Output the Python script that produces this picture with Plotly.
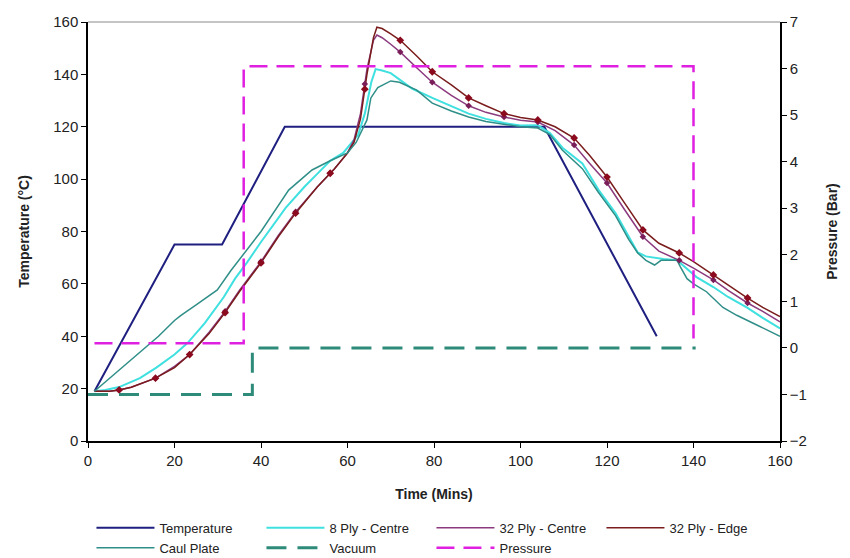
import numpy as np
import plotly.graph_objects as go

# ---- data ----
temp_t = [1.5, 20, 31, 45.5, 105.5, 131.5]
temp_v = [19, 75, 75, 120, 120, 40]

edge_t = [1.5, 5, 7.2, 10, 15.6, 20, 23.5, 28, 31.7, 35, 40, 44, 48, 53, 57, 60, 61.5, 63, 64.5, 66, 66.8, 68, 70, 72.2, 76, 79.6, 84, 88, 92, 96.2, 100, 104, 108, 112.4, 116, 120, 124, 128.3, 132, 136.7, 140, 144.6, 148, 152.5, 156, 160]
edge_v = [19, 19, 19.5, 20.5, 24, 28, 33, 41, 49, 57, 68, 78, 87, 97, 104, 110, 114, 123, 140, 154, 158, 157.5, 155.5, 153, 147, 141, 136, 131, 128, 125, 123.5, 122.6, 120, 115.7, 109, 100.8, 91, 80.6, 75.5, 71.8, 68.5, 63.4, 59.5, 54.6, 51, 47.5]

centre32_t = [1.5, 5, 7.2, 10, 15.6, 20, 23.5, 28, 31.7, 35, 40, 44, 48, 53, 57, 60, 61.5, 63, 64.5, 66, 66.8, 68, 70, 72.2, 76, 79.6, 84, 88, 92, 96.2, 100, 104, 108, 112.4, 116, 120, 124, 128.3, 132, 136.7, 140, 144.6, 148, 152.5, 156, 160]
centre32_v = [19, 19, 19.5, 20.5, 24, 28.5, 33, 41.5, 49.5, 57.5, 68.5, 78.5, 87.5, 97, 104, 110, 115, 125, 142, 153, 155, 154, 151.5, 148.5, 142.5, 137, 132, 128, 125.5, 123.7, 122.5, 121.8, 118.5, 113, 106, 98.5, 88.5, 78, 72.5, 69, 66, 61.5, 57.5, 52.7, 49.5, 45.5]

ply8_t = [1.5, 4, 7.2, 12, 15.8, 20, 23, 27, 31.4, 34, 36.7, 40, 45.7, 50, 53, 56, 59, 61, 62.5, 64, 65.5, 66.5, 68, 70, 72, 75, 79.6, 84, 88, 92, 96.2, 100, 104, 106.8, 109.7, 114.3, 118, 122, 125, 127.1, 129, 131, 133, 136.2, 138, 140.7, 144.6, 148, 152.5, 156, 160]
ply8_v = [19, 19.5, 20.6, 24, 28, 33, 37.4, 45, 55, 62, 68, 76, 89, 97, 102, 107, 110, 114, 117, 125, 137, 142, 141.5, 140.5, 138, 134.5, 131, 128, 125, 123, 121.4, 120.5, 120.6, 117.6, 112, 106, 96, 87, 78, 72, 70.5, 70, 69.5, 69, 66.5, 62.6, 58.8, 55, 50.8, 47, 43]

caul_t = [1.5, 5, 10, 13.3, 16.3, 20, 21.5, 25, 29.9, 33, 36.7, 40, 46.4, 51.8, 56, 60, 62, 64.5, 65.4, 67, 70, 72, 76, 79.6, 84, 88, 92, 96.2, 100, 104, 106.8, 109.7, 114.3, 118, 122, 125, 127.1, 129, 131, 132.5, 134, 136.2, 137, 138.5, 140, 143, 146.8, 150, 155, 160]
caul_v = [19, 24, 31, 36, 40, 46, 48, 52, 57.7, 65, 73, 80, 95.8, 103.5, 107, 110, 114, 122.6, 131, 135, 137.5, 137, 134, 129, 126, 123.7, 122, 121, 120, 119.5, 117, 111, 104, 95, 86, 77, 71.8, 69, 67.2, 69, 69, 69, 66.4, 62, 60, 57, 51, 48, 44, 40]

vac_t = [0, 38, 38, 140.5]
vac_p = [-1, -1, 0, 0]

press_t = [1.5, 36, 36, 140, 140]
press_p = [0.1, 0.1, 6.05, 6.05, 0.2]

marker_times = [7.2, 15.6, 23.5, 31.7, 40, 48, 56, 64, 72.2, 79.6, 88, 96.2, 104, 112.4, 120, 128.3, 136.7, 144.6, 152.5]

x_ticks = [0, 20, 40, 60, 80, 100, 120, 140, 160]
y_ticks = [0, 20, 40, 60, 80, 100, 120, 140, 160]
y2_ticks = [-2, -1, 0, 1, 2, 3, 4, 5, 6, 7]

FONT = "Liberation Sans, Arial, sans-serif"

fig = go.Figure()
fig.add_trace(go.Scatter(x=temp_t, y=temp_v, name="Temperature", mode="lines",
                         line=dict(color="#1f1f80", width=2)))
fig.add_trace(go.Scatter(x=ply8_t, y=ply8_v, name="8 Ply - Centre", mode="lines",
                         line=dict(color="#3fe0e0", width=2)))
fig.add_trace(go.Scatter(x=centre32_t, y=centre32_v, name="32 Ply - Centre", mode="lines",
                         line=dict(color="#8b3a7e", width=1.5)))
fig.add_trace(go.Scatter(x=edge_t, y=edge_v, name="32 Ply - Edge", mode="lines",
                         line=dict(color="#7a1c1c", width=1.5)))
fig.add_trace(go.Scatter(x=caul_t, y=caul_v, name="Caul Plate", mode="lines",
                         line=dict(color="#2f8f88", width=1.5)))
fig.add_trace(go.Scatter(x=vac_t, y=vac_p, name="Vacuum", mode="lines", yaxis="y2",
                         line=dict(color="#2e8b7a", width=3, dash="20px,11px")))
fig.add_trace(go.Scatter(x=press_t, y=press_p, name="Pressure", mode="lines", yaxis="y2",
                         line=dict(color="#e020e0", width=2.5, dash="18px,9px")))

# markers on the 32-ply lines
fig.add_trace(go.Scatter(x=marker_times, y=np.interp(marker_times, centre32_t, centre32_v),
                         mode="markers", showlegend=False, hoverinfo="skip",
                         marker=dict(color="#7a1e5a", size=5, symbol="diamond")))
fig.add_trace(go.Scatter(x=marker_times, y=np.interp(marker_times, edge_t, edge_v),
                         mode="markers", showlegend=False, hoverinfo="skip",
                         marker=dict(color="#8b0a1e", size=6, symbol="diamond")))

fig.update_layout(
    width=850, height=558,
    margin=dict(l=88, r=55, t=22, b=117),
    paper_bgcolor="white", plot_bgcolor="white",
    font=dict(family=FONT, color="#222222", size=14),
    showlegend=True,
    legend=dict(orientation="h", x=0.005, xanchor="left",
                yref="container", y=0.081, yanchor="top",
                entrywidth=97, font=dict(size=13, family=FONT), tracegroupgap=0,
                itemwidth=58, borderwidth=0, bgcolor="rgba(0,0,0,0)"),
    xaxis=dict(range=[0, 160], tickvals=x_ticks, showgrid=False, zeroline=False,
               showline=True, linecolor="black", linewidth=1.5, ticks="outside",
               ticklen=5, tickcolor="black",
               title=dict(text="<b>Time (Mins)</b>", font=dict(size=14), standoff=21),
               tickfont=dict(size=15)),
    yaxis=dict(range=[0, 160], tickvals=y_ticks, showgrid=False, zeroline=False,
               showline=True, linecolor="black", linewidth=1.5, ticks="outside",
               ticklen=5, tickcolor="black",
               title=dict(text="<b>Temperature (°C)</b>", font=dict(size=14), standoff=20),
               tickfont=dict(size=15)),
    yaxis2=dict(range=[-2, 7], tickvals=y2_ticks, overlaying="y", side="right",
                showgrid=False, zeroline=False, showline=True, linecolor="black",
                linewidth=1.5, ticks="outside", ticklen=5, tickcolor="black",
                title=dict(text="<b>Pressure (Bar)</b>", font=dict(size=14), standoff=21),
                tickfont=dict(size=15)),
    shapes=[dict(type="line", xref="paper", yref="paper", x0=0, x1=1, y0=1, y1=1,
                 line=dict(color="#b0b0b0", width=1.5))],
)

fig.write_html("out.html")
